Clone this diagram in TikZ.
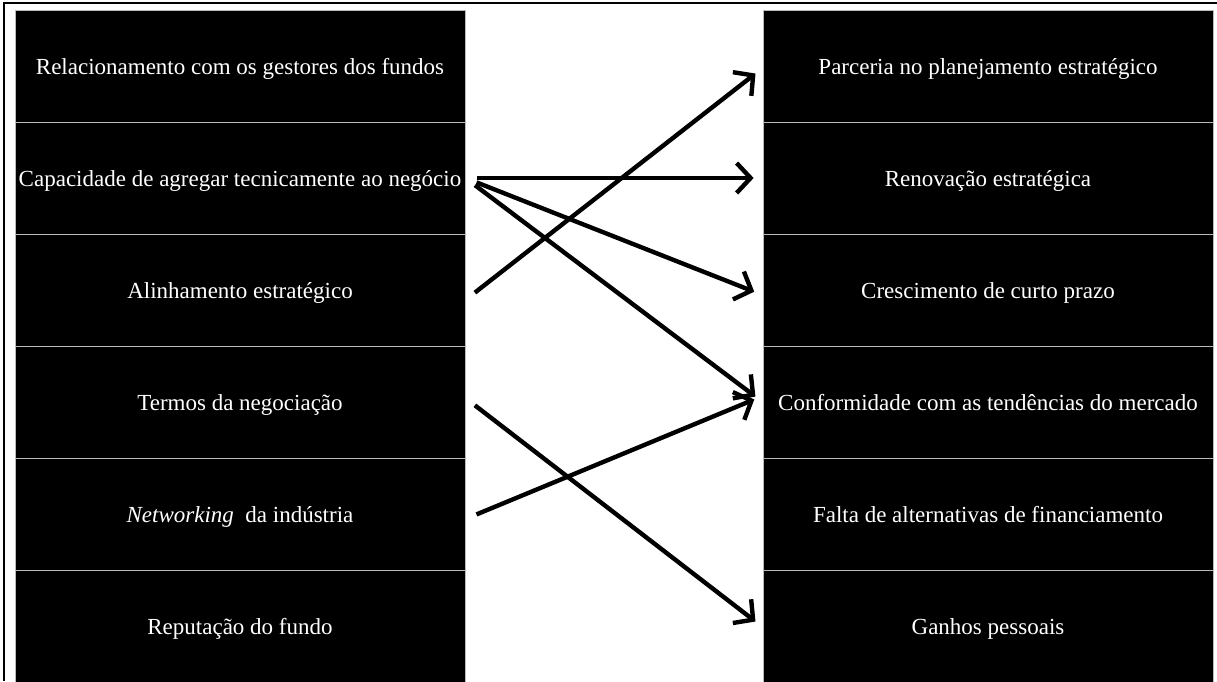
\documentclass[tikz,border=0pt]{standalone}
\usepackage{fontspec}
\setmainfont{Liberation Serif}
\usetikzlibrary{arrows.meta}
\begin{document}
\begin{tikzpicture}[x=1pt,y=-1pt,
  cell/.style={draw=gray!55,line width=0.8pt,fill=black,text=white,minimum width=450pt,minimum height=112pt,inner sep=0pt,text height=22pt,text depth=5pt,font=\fontsize{23}{26}\selectfont},
  link/.style={line width=4.4pt,-{Straight Barb[length=14pt,width=30pt,line width=4.4pt]},shorten <=12pt,shorten >=9pt}]
\useasboundingbox (0,0) rectangle (1217,681);
\draw[line width=2pt] (4,681) -- (4,3) -- (1217,3);
\foreach \t [count=\i] in {Relacionamento com os gestores dos fundos,Capacidade de agregar tecnicamente ao negócio,Alinhamento estratégico,Termos da negociação,{\textit{Networking}\hspace{0.5em}da indústria},Reputação do fundo}
  \node[cell] (L\i) at (240,{10+112*(\i-1)+56}) {\t};
\foreach \t [count=\i] in {Parceria no planejamento estratégico,Renovação estratégica,Crescimento de curto prazo,Conformidade com as tendências do mercado,Falta de alternativas de financiamento,Ganhos pessoais}
  \node[cell] (R\i) at (988,{10+112*(\i-1)+56}) {\t};
\draw[link] ([yshift=-10pt]L3.east) -- ([yshift=-2pt]R1.west);
\draw[link] (L2.east) -- (R2.west);
\draw[link] (L2.east) -- ([yshift=-5pt]R3.west);
\draw[link] (L2.east) -- ([yshift=0pt]R4.west);
\draw[link] ([yshift=4pt]L4.east) -- ([yshift=-1pt]R6.west);
\draw[link] ([yshift=-5pt]L5.east) -- ([yshift=6pt]R4.west);
\end{tikzpicture}
\end{document}
